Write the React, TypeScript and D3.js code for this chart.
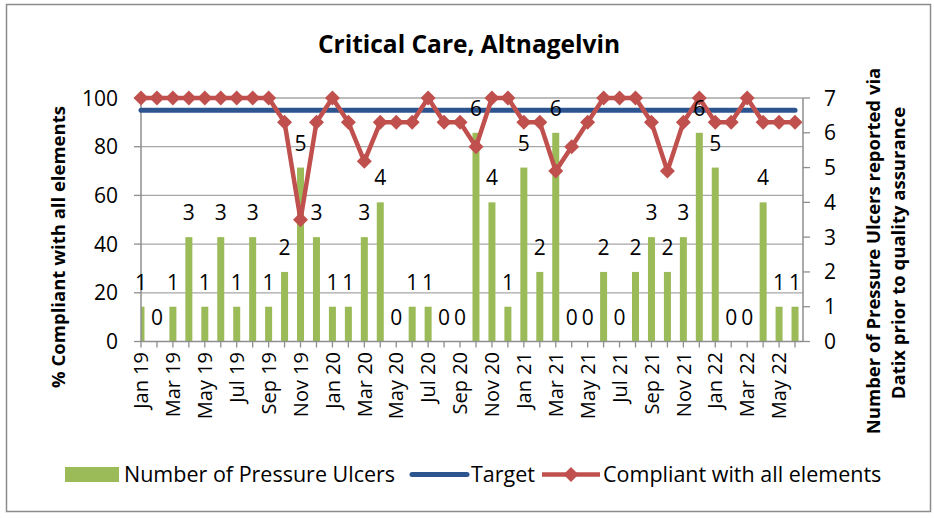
import React from "react";
import * as d3 from "d3";

const months = [
  "Jan 19","Feb 19","Mar 19","Apr 19","May 19","Jun 19","Jul 19","Aug 19","Sep 19","Oct 19","Nov 19","Dec 19",
  "Jan 20","Feb 20","Mar 20","Apr 20","May 20","Jun 20","Jul 20","Aug 20","Sep 20","Oct 20","Nov 20","Dec 20",
  "Jan 21","Feb 21","Mar 21","Apr 21","May 21","Jun 21","Jul 21","Aug 21","Sep 21","Oct 21","Nov 21","Dec 21",
  "Jan 22","Feb 22","Mar 22","Apr 22","May 22","Jun 22",
];
const ulcers = [1,0,1,3,1,3,1,3,1,2,5,3,1,1,3,4,0,1,1,0,0,6,4,1,5,2,6,0,0,2,0,2,3,2,3,6,5,0,0,4,1,1];
const compliant = [100,100,100,100,100,100,100,100,100,90,50,90,100,90,74,90,90,90,100,90,90,80,100,100,90,90,70,80,90,100,100,100,90,70,90,100,90,90,100,90,90,90];
const target = 95;
const leftTicks = [0, 20, 40, 60, 80, 100];
const rightTicks = [0, 1, 2, 3, 4, 5, 6, 7];

const FONT = "'Open Sans', Lato, sans-serif";
const GREEN = "#9BBB59";
const RED = "#C0504D";
const BLUE = "#2C5590";
const AXIS = "#8E8E8E";

export default function App() {
  const left = 141, right = 803, top = 98, bottom = 341.5;
  const step = (right - left) / (months.length - 0.5);
  const x = d3.scaleLinear().domain([0, months.length - 1]).range([left, left + step * (months.length - 1)]);
  const yL = d3.scaleLinear().domain([0, 100]).range([bottom, top]);
  const yR = d3.scaleLinear().domain([0, 7]).range([bottom, top]);
  const barW = 7;
  const line = d3.line<number>().x((_, i) => x(i)).y((d) => yL(d));
  const diamond = (cx: number, cy: number, r = 7.5) =>
    `M${cx},${cy - r}L${cx + r},${cy}L${cx},${cy + r}L${cx - r},${cy}Z`;

  return (
    <div style={{ position: "absolute", left: 0, top: 0 }}>
      <svg width={934} height={518} style={{ display: "block", fontFamily: FONT }}>
        <rect x={0} y={0} width={934} height={518} fill="#fff" />
        <rect x={6.5} y={4.5} width={924} height={507} fill="none" stroke="#8C8C8C" strokeWidth={1.5} />
        <text x={469} y={53} textAnchor="middle" fontSize={24.5} fontWeight="bold" fill="#000">
          Critical Care, Altnagelvin
        </text>
        <defs>
          <clipPath id="plotclip">
            <rect x={left} y={top - 20} width={right - left} height={bottom - top + 20} />
          </clipPath>
        </defs>
        {leftTicks.slice(1).map((t) => (
          <line key={"g" + t} x1={left} x2={right} y1={yL(t)} y2={yL(t)} stroke="#A6A6A6" strokeWidth={1.3} />
        ))}
        <g clipPath="url(#plotclip)">
          {ulcers.map((v, i) => (
            <rect key={"b" + i} x={x(i) - barW / 2} y={yR(v)} width={barW} height={yR(0) - yR(v)} fill={GREEN} />
          ))}
        </g>
        <line x1={left} x2={left} y1={top} y2={bottom} stroke={AXIS} strokeWidth={1.5} />
        <line x1={right} x2={right} y1={top} y2={bottom} stroke={AXIS} strokeWidth={1.5} />
        <line x1={left} x2={right} y1={bottom} y2={bottom} stroke={AXIS} strokeWidth={1.5} />
        {leftTicks.map((t) => (
          <g key={"lt" + t}>
            <line x1={left - 7} x2={left} y1={yL(t)} y2={yL(t)} stroke={AXIS} strokeWidth={1.3} />
            <text x={118} y={yL(t)} dy="0.36em" textAnchor="end" fontSize={21} fill="#000">{t}</text>
          </g>
        ))}
        {rightTicks.map((t) => (
          <g key={"rt" + t}>
            <line x1={right} x2={right + 7} y1={yR(t)} y2={yR(t)} stroke={AXIS} strokeWidth={1.3} />
            <text x={824} y={yR(t)} dy="0.36em" textAnchor="start" fontSize={21} fill="#000">{t}</text>
          </g>
        ))}
        {months.map((m, i) => (
          <line key={"xt" + i} x1={x(i)} x2={x(i)} y1={bottom} y2={bottom + 6} stroke={AXIS} strokeWidth={1.3} />
        ))}
        {months.map((m, i) =>
          i % 2 === 0 ? (
            <text key={"xl" + i} transform={`translate(${x(i)},352) rotate(-90)`} dy="0.36em" textAnchor="end" fontSize={20} fill="#000">
              {m}
            </text>
          ) : null
        )}
        <line x1={x(0)} x2={x(months.length - 1)} y1={yL(target)} y2={yL(target)} stroke={BLUE} strokeWidth={5} strokeLinecap="round" />
        <path d={line(compliant) || ""} fill="none" stroke={RED} strokeWidth={4.5} strokeLinejoin="round" />
        {compliant.map((v, i) => (
          <path key={"d" + i} d={diamond(x(i), yL(v))} fill={RED} />
        ))}
        {ulcers.map((v, i) => (
          <text key={"bl" + i} x={x(i)} y={yR(v) - 17} textAnchor="middle" fontSize={21} fill="#000">{v}</text>
        ))}
        <text transform={`translate(58,247) rotate(-90)`} dy="0.36em" textAnchor="middle" fontSize={18.5} fontWeight="bold" fill="#000">
          % Compliant with all elements
        </text>
        <text transform={`translate(873,251) rotate(-90)`} dy="0.36em" textAnchor="middle" fontSize={18.5} fontWeight="bold" fill="#000">
          Number of Pressure Ulcers reported via
        </text>
        <text transform={`translate(898,253) rotate(-90)`} dy="0.36em" textAnchor="middle" fontSize={18.5} fontWeight="bold" fill="#000">
          Datix prior to quality assurance
        </text>
        <rect x={65} y={467} width={54} height={15} fill={GREEN} />
        <text x={124} y={474.5} dy="0.36em" fontSize={21.5} fill="#000">Number of Pressure Ulcers</text>
        <line x1={412} x2={467} y1={474.5} y2={474.5} stroke={BLUE} strokeWidth={5} strokeLinecap="round" />
        <text x={471} y={474.5} dy="0.36em" fontSize={21.5} fill="#000">Target</text>
        <line x1={542} x2={600} y1={474.5} y2={474.5} stroke={RED} strokeWidth={4.5} />
        <path d={diamond(571, 474.5)} fill={RED} />
        <text x={603} y={474.5} dy="0.36em" fontSize={21.5} fill="#000">Compliant with all elements</text>
      </svg>
    </div>
  );
}
